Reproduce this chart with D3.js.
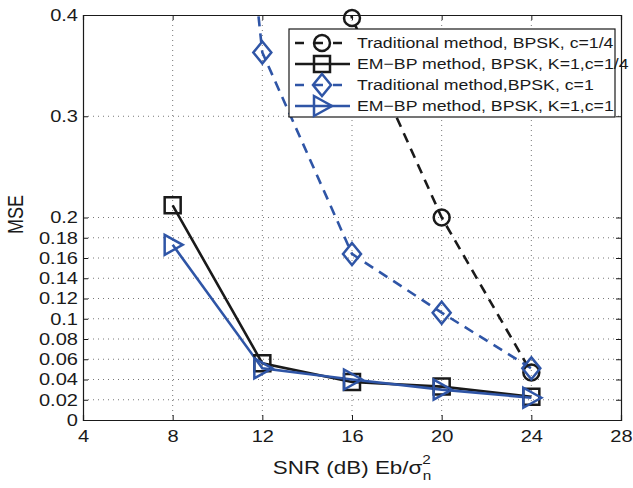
<!DOCTYPE html>
<html>
<head>
<meta charset="utf-8">
<script src="https://cdn.jsdelivr.net/npm/d3@7"></script>
<style>
  body { margin: 0; background: #fff; }
  svg text { font-family: "Liberation Sans", Arial, sans-serif; fill: #1a1a1a; }
</style>
</head>
<body>
<svg id="chart" width="633" height="488"></svg>
<script>
// data
const snr = [8, 12, 16, 20, 24];
const tradQuarter = [null, 0.8, 0.397, 0.2, 0.047];   // circles, first points off the top
const embpQuarter = [0.212, 0.056, 0.0375, 0.033, 0.023];
const tradOne = [1.2, 0.363, 0.164, 0.106, 0.051];     // diamonds
const embpOne = [0.173, 0.051, 0.040, 0.030, 0.022];
const xTicks = [4, 8, 12, 16, 20, 24, 28];
const yTicks = [0, 0.02, 0.04, 0.06, 0.08, 0.1, 0.12, 0.14, 0.16, 0.18, 0.2, 0.3, 0.4];
const legendLabels = [
  "Traditional method, BPSK, c=1/4",
  "EM\u2212BP method, BPSK, K=1,c=1/4",
  "Traditional method,BPSK, c=1",
  "EM\u2212BP method, BPSK, K=1,c=1"
];

const black = "#1a1a1a", blue = "#2f55a6";
const series = [
  { vals: tradQuarter, color: black, dash: "10,7", marker: "circle" },
  { vals: embpQuarter, color: black, dash: null, marker: "square" },
  { vals: tradOne, color: blue, dash: "10,7", marker: "diamond" },
  { vals: embpOne, color: blue, dash: null, marker: "triangle" }
];

const margin = { top: 15, right: 12, bottom: 68, left: 83 };
const width = 633 - margin.left - margin.right;
const height = 488 - margin.top - margin.bottom;
const sx = 1.18; // the picture's text is a little stretched sideways

const svg = d3.select("#chart");
const g = svg.append("g").attr("transform", `translate(${margin.left},${margin.top})`);

const x = d3.scaleLinear().domain([4, 28]).range([0, width]);
const y = d3.scaleLinear().domain([0, 0.4]).range([height, 0]);

svg.append("defs").append("clipPath").attr("id", "plot")
  .append("rect").attr("width", width).attr("height", height);

// dotted grid
g.append("g").selectAll("line").data(xTicks.slice(1, -1)).join("line")
  .attr("x1", d => x(d)).attr("x2", d => x(d)).attr("y1", 0).attr("y2", height)
  .attr("stroke", "#555").attr("stroke-width", 0.8).attr("stroke-dasharray", "1,4");
g.append("g").selectAll("line").data(yTicks.slice(1, -1)).join("line")
  .attr("y1", d => y(d)).attr("y2", d => y(d)).attr("x1", 0).attr("x2", width)
  .attr("stroke", "#555").attr("stroke-width", 0.8).attr("stroke-dasharray", "1,4");

// axes with inward ticks
const xAxis = g.append("g").attr("transform", `translate(0,${height})`)
  .call(d3.axisBottom(x).tickValues(xTicks).tickSize(-5).tickPadding(8).tickFormat(d3.format("d")));
const yAxis = g.append("g")
  .call(d3.axisLeft(y).tickValues(yTicks).tickSize(-5).tickPadding(5).tickFormat(d => d === 0 ? "0" : d3.format("")(+d.toFixed(2))));
g.append("g").attr("transform", `translate(${width},0)`)
  .call(d3.axisRight(y).tickValues(yTicks).tickSize(-5).tickFormat(""));
g.append("g")
  .call(d3.axisTop(x).tickValues(xTicks).tickSize(-5).tickFormat(""));
g.selectAll(".domain").attr("stroke", black).attr("stroke-width", 1.2);
g.selectAll(".tick line").attr("stroke", black);
[xAxis, yAxis].forEach(a => a.selectAll("text")
  .attr("font-size", 17).attr("fill", black)
  .attr("font-family", "Liberation Sans, Arial, sans-serif"));
xAxis.selectAll("text").attr("dy", "0.85em");
// stretch tick labels sideways about their anchor
xAxis.selectAll(".tick text").attr("transform", `scale(${sx},1)`);
yAxis.selectAll(".tick text").each(function() {
  const t = d3.select(this);
  const tx = +t.attr("x");
  t.attr("transform", `translate(${tx},0) scale(${sx},1)`).attr("x", 0);
});

// lines
const line = d3.line().defined(d => d[1] != null).x(d => x(d[0])).y(d => y(d[1]));
const plot = g.append("g").attr("clip-path", "url(#plot)");
series.forEach(s => {
  plot.append("path")
    .datum(snr.map((v, i) => [v, s.vals[i]]))
    .attr("d", line).attr("fill", "none")
    .attr("stroke", s.color).attr("stroke-width", 2.6)
    .attr("stroke-dasharray", s.dash);
});

function drawMarker(sel, type, cx, cy, color) {
  const m = sel.append("path").attr("fill", "none").attr("stroke", color).attr("stroke-width", 2.5);
  if (type === "circle") m.attr("d", d3.symbol(d3.symbolCircle, 200)()).attr("transform", `translate(${cx},${cy})`);
  if (type === "square") m.attr("d", "M-8,-8H8V8H-8Z").attr("transform", `translate(${cx},${cy})`);
  if (type === "diamond") m.attr("d", "M0,-11L9,0L0,11L-9,0Z").attr("transform", `translate(${cx},${cy})`);
  if (type === "triangle") m.attr("d", "M-8,-10L10,0L-8,10Z").attr("transform", `translate(${cx},${cy})`);
}

// markers only for points inside the y range
const marks = g.append("g");
series.forEach(s => {
  snr.forEach((v, i) => {
    const val = s.vals[i];
    if (val == null || val > 0.4) return;
    drawMarker(marks, s.marker, x(v), y(val), s.color);
  });
});

// legend
const lg = svg.append("g").attr("transform", "translate(289,29)");
lg.append("rect").attr("width", 326).attr("height", 88)
  .attr("fill", "#fff").attr("stroke", black).attr("stroke-width", 1.2);
legendLabels.forEach((lab, i) => {
  const s = series[i];
  const cy = 14 + i * 21;
  lg.append("line").attr("x1", 6).attr("x2", 61).attr("y1", cy).attr("y2", cy)
    .attr("stroke", s.color).attr("stroke-width", 2.6)
    .attr("stroke-dasharray", s.dash ? "9,10" : null);
  drawMarker(lg, s.marker, 33, cy, s.color);
  lg.append("text").attr("transform", `translate(68,${cy}) scale(${sx},1)`)
    .attr("dy", "0.36em").attr("font-size", 15).attr("fill", black).text(lab);
});

// axis titles
svg.append("text")
  .attr("transform", `translate(23,${margin.top + y(0.203)}) rotate(-90) scale(1,${sx})`)
  .attr("text-anchor", "middle").attr("font-size", 18).text("MSE");

const xl = svg.append("text")
  .attr("transform", `translate(${margin.left + x(16)},474) scale(${sx},1)`)
  .attr("text-anchor", "middle").attr("font-size", 19);
xl.append("tspan").text("SNR (dB) Eb/\u03c3");
xl.append("tspan").attr("font-size", 13).attr("dy", -10).text("2");
xl.append("tspan").attr("font-size", 13).attr("dx", -7).attr("dy", 16).text("n");
</script>
</body>
</html>
